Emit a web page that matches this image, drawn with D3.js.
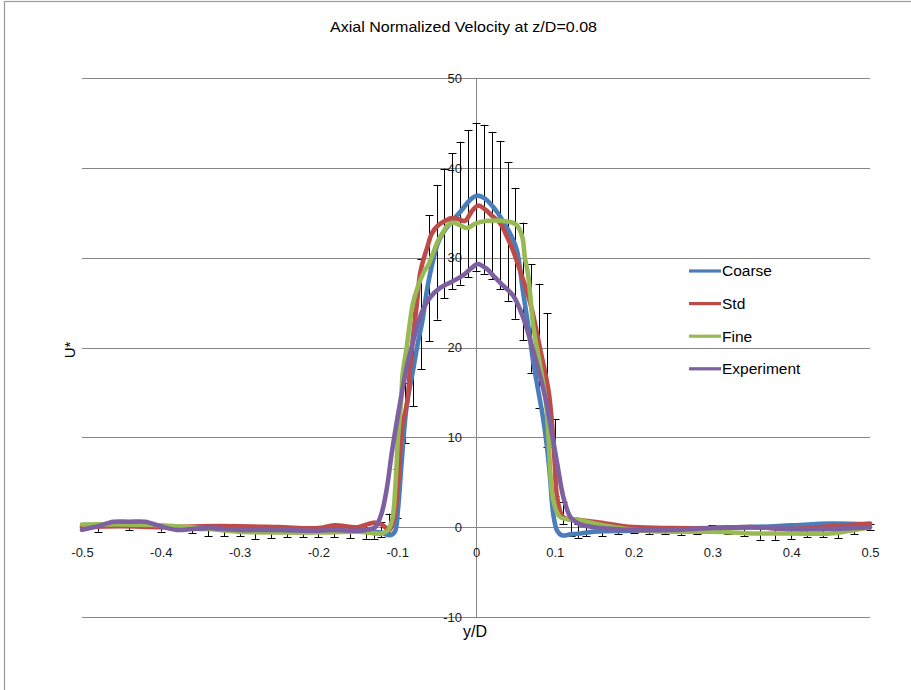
<!DOCTYPE html>
<html>
<head>
<meta charset="utf-8">
<script src="https://cdn.jsdelivr.net/npm/d3@7"></script>
<style>
  html, body { margin: 0; padding: 0; background: #fff; }
  svg { display: block; font-family: "Liberation Sans", Arial, sans-serif; }
</style>
</head>
<body>
<svg id="chart" width="911" height="690"></svg>
<script>
// Axial normalized velocity profiles U* across y/D at z/D = 0.08

const seriesNames = ["Coarse", "Std", "Fine", "Experiment"];
const seriesColors = ["#4A7EBB", "#BE4B48", "#98B954", "#7D60A0"];

const xTicks = [-0.5, -0.4, -0.3, -0.2, -0.1, 0, 0.1, 0.2, 0.3, 0.4, 0.5];
const xTickLabels = ["-0.5", "-0.4", "-0.3", "-0.2", "-0.1", "0", "0.1", "0.2", "0.3", "0.4", "0.5"];
const yTicks = [-10, 0, 10, 20, 30, 40, 50];
const yTickLabels = ["-10", "0", "10", "20", "30", "40", "50"];

// Coarse mesh
const coarseY = [-0.5, -0.45, -0.4, -0.35, -0.3, -0.25, -0.2, -0.15, -0.12, -0.11, -0.103, -0.099, -0.095, -0.09, -0.087,
  -0.08, -0.074, -0.068, -0.062, -0.055, -0.048, -0.04, -0.031, -0.018, -0.008, 0.001, 0.011, 0.024, 0.034, 0.046,
  0.052, 0.06, 0.067, 0.073, 0.085, 0.09, 0.094, 0.098, 0.103, 0.109, 0.12, 0.132, 0.15, 0.2, 0.25, 0.3, 0.35, 0.4, 0.45, 0.5];
const coarseU = [0.1, 0.3, 0.1, -0.2, -0.1, -0.3, -0.4, -0.5, -0.6, -0.9, -0.5, 2, 6.5, 11.9, 14.1,
  17.4, 20.4, 23, 26.5, 29.5, 31.7, 33, 34, 35.3, 36.4, 36.9, 36.6, 35.4, 34.1, 32.2,
  30.8, 26, 22, 18.2, 12.2, 9, 5.5, 1.5, -0.4, -0.9, -0.8, -0.7, -0.5, -0.4, -0.3, -0.1, 0, 0.2, 0.4, 0.3];

// Standard mesh
const stdY = [-0.5, -0.45, -0.4, -0.35, -0.3, -0.25, -0.2, -0.18, -0.15, -0.13, -0.12, -0.11, -0.106, -0.102, -0.098,
  -0.094, -0.087, -0.084, -0.08, -0.075, -0.071, -0.067, -0.062, -0.056, -0.048, -0.039, -0.031, -0.023, -0.014, -0.005,
  0.003, 0.011, 0.02, 0.031, 0.039, 0.047, 0.053, 0.069, 0.081, 0.092, 0.097, 0.1, 0.103, 0.111, 0.132, 0.15,
  0.2, 0.25, 0.3, 0.35, 0.4, 0.45, 0.5];
const stdU = [0, 0.1, 0, 0.1, 0.1, 0, -0.1, 0.2, 0, 0.5, 0.3, -0.3, 0.3, 2, 6,
  11, 14.1, 17.4, 21.1, 24.9, 28.2, 29.7, 31.1, 32.7, 33.6, 34.1, 34.4, 34.3, 34.1, 35.2,
  35.8, 35.4, 34.7, 33.8, 32.4, 30.8, 29.3, 24.9, 20, 15.2, 11, 7, 3.3, 1.1, 0.8, 0.6,
  0, -0.1, -0.1, 0, -0.2, 0.1, 0.4];

// Fine mesh
const fineY = [-0.5, -0.45, -0.4, -0.35, -0.3, -0.25, -0.2, -0.15, -0.12, -0.112, -0.106, -0.102, -0.099, -0.095, -0.093,
  -0.088, -0.084, -0.08, -0.074, -0.065, -0.061, -0.055, -0.048, -0.042, -0.036, -0.029, -0.02, -0.011, -0.001, 0.015,
  0.033, 0.046, 0.052, 0.059, 0.062, 0.066, 0.073, 0.081, 0.089, 0.092, 0.095, 0.099, 0.107, 0.132, 0.15,
  0.2, 0.25, 0.3, 0.35, 0.4, 0.45, 0.48, 0.5];
const fineU = [0.3, 0.3, 0.2, -0.1, -0.5, -0.6, -0.6, -0.5, -0.7, -0.4, 1, 5, 10, 14.1, 17.1,
  20, 22.7, 24.9, 26.7, 28.6, 29.1, 30.4, 31.9, 32.8, 33.6, 33.9, 33.6, 33.3, 33.8, 34.1,
  34.1, 33.9, 33.6, 32.2, 30, 28.2, 22.2, 18.2, 13.8, 10, 5.2, 2.7, 1.1, 0.8, 0.4,
  -0.3, -0.5, -0.5, -0.7, -0.7, -0.7, -0.3, 0];

// Experiment
const expY = [-0.5, -0.48, -0.46, -0.44, -0.42, -0.4, -0.38, -0.36, -0.34, -0.32, -0.3, -0.25, -0.2, -0.18, -0.16,
  -0.14, -0.128, -0.12, -0.113, -0.107, -0.1, -0.093, -0.087, -0.08, -0.074, -0.067, -0.058, -0.046, -0.029, -0.017,
  -0.005, 0.002, 0.013, 0.023, 0.033, 0.047, 0.06, 0.075, 0.088, 0.094, 0.103, 0.111, 0.12, 0.13, 0.15,
  0.2, 0.25, 0.3, 0.35, 0.4, 0.45, 0.48, 0.5];
const expU = [-0.3, 0.1, 0.6, 0.6, 0.6, 0.1, -0.3, -0.2, -0.1, -0.2, -0.3, -0.3, -0.4, -0.3, -0.4,
  -0.3, 0, 1.5, 4.4, 8.2, 12, 15.5, 18.2, 20.6, 22.6, 24.3, 25.6, 26.6, 27.4, 28,
  28.9, 29.3, 28.8, 27.9, 27, 25.8, 23.3, 18.9, 14.4, 11.6, 7.1, 3.3, 1.1, 0.4, 0,
  -0.3, -0.3, -0.1, 0, -0.2, -0.2, -0.1, 0];

// Measurement uncertainty range at each probe position
const errY = [-0.48, -0.44, -0.4, -0.36, -0.34, -0.32, -0.3, -0.28, -0.26, -0.24, -0.22, -0.2, -0.18, -0.16, -0.14, -0.13,
  -0.12, -0.11, -0.1, -0.09, -0.08, -0.07, -0.06, -0.05, -0.04, -0.03, -0.02, -0.01, 0,
  0.01, 0.02, 0.03, 0.04, 0.05, 0.06, 0.07, 0.08, 0.09, 0.1, 0.11, 0.12, 0.13,
  0.14, 0.16, 0.18, 0.2, 0.22, 0.24, 0.26, 0.28, 0.3, 0.32, 0.34, 0.36, 0.38, 0.4, 0.42, 0.44, 0.46, 0.48, 0.5];
const errLo = [-0.5, -0.3, -0.5, -0.7, -1.0, -1.0, -1.0, -1.3, -1.2, -1.1, -1.1, -1.1, -1.1, -1.2, -1.3, -1.3,
  -1.1, -0.9, 1.0, 9.4, 13.5, 17.6, 20.7, 23.1, 25.5, 26.5, 27.0, 27.8, 28.5,
  28.2, 27.6, 26.5, 25.2, 23.2, 20.8, 17.2, 13.3, 8.9, 3.5, 0.3, -1.0, -1.2,
  -1.0, -1.0, -0.8, -0.7, -0.8, -0.8, -0.9, -0.8, -0.7, -0.8, -1.0, -1.4, -1.4, -1.3, -1.1, -1.1, -1.2, -0.8, -0.3];
const errHi = [0.3, 0.6, 0.3, 0.2, 0.2, 0.1, 0, 0, 0, 0, 0, 0, 0.1, 0, 0.2, 0.5,
  0.6, 1.5, 6.5, 16, 24, 29.9, 34.7, 38.1, 39.9, 41.6, 42.9, 44.2, 45.0,
  44.8, 44.0, 43.0, 40.6, 37.7, 33.9, 29.3, 27.1, 23.8, 12.0, 2.8, 0.8, 0.4,
  0.3, 0.2, 0.2, 0.1, 0.1, 0, 0, 0.1, 0.2, 0.2, 0.2, 0.2, 0.1, 0.1, 0.2, 0.1, 0.1, 0.3, 0.4];

const series = [
  { name: seriesNames[0], color: seriesColors[0], ys: coarseY, us: coarseU },
  { name: seriesNames[1], color: seriesColors[1], ys: stdY, us: stdU },
  { name: seriesNames[2], color: seriesColors[2], ys: fineY, us: fineU },
  { name: seriesNames[3], color: seriesColors[3], ys: expY, us: expU }
];

const svg = d3.select("#chart");
const gridColor = "#868686";

const x = d3.scaleLinear().domain([-0.5, 0.5]).range([82, 870]);
const y = d3.scaleLinear().domain([-10, 50]).range([617, 78]);

// outer chart frame
svg.append("rect")
  .attr("x", 4.5).attr("y", 1.5)
  .attr("width", 1000).attr("height", 1000)
  .attr("fill", "none").attr("stroke", "#999").attr("stroke-width", 1.2);

// title
svg.append("text")
  .attr("x", 463.5).attr("y", 32)
  .attr("text-anchor", "middle")
  .attr("font-size", 15)
  .attr("textLength", 267).attr("lengthAdjust", "spacingAndGlyphs")
  .attr("fill", "#000")
  .text("Axial Normalized Velocity at z/D=0.08");

// horizontal gridlines
const grid = svg.append("g")
  .attr("transform", `translate(${x.range()[1]},0)`)
  .call(d3.axisLeft(y).tickValues(yTicks).tickSize(x.range()[1] - x.range()[0]).tickFormat(""));
grid.select(".domain").remove();
grid.selectAll("line").attr("stroke", gridColor).attr("shape-rendering", "crispEdges");

// vertical axis through y/D = 0
svg.append("line")
  .attr("x1", Math.round(x(0)) + 0.5).attr("x2", Math.round(x(0)) + 0.5)
  .attr("y1", y(50)).attr("y2", y(-10))
  .attr("stroke", gridColor);

// y tick labels
const yAxis = svg.append("g")
  .attr("transform", `translate(${x(0)},0)`)
  .call(d3.axisLeft(y).tickValues(yTicks).tickSize(0).tickPadding(14)
    .tickFormat((d, i) => yTickLabels[i]));
yAxis.select(".domain").remove();
yAxis.selectAll("text").attr("font-size", 13).attr("fill", "#1a1a1a")
  .attr("font-family", "Liberation Sans, Arial, sans-serif");

// x tick labels
const xAxis = svg.append("g")
  .attr("transform", `translate(0,${y(0)})`)
  .call(d3.axisBottom(x).tickValues(xTicks).tickSize(0).tickPadding(21)
    .tickFormat((d, i) => xTickLabels[i]));
xAxis.select(".domain").remove();
xAxis.selectAll("text").attr("font-size", 13).attr("fill", "#1a1a1a")
  .attr("font-family", "Liberation Sans, Arial, sans-serif");

// axis titles
svg.append("text")
  .attr("x", 475).attr("y", 637)
  .attr("text-anchor", "middle").attr("font-size", 16).attr("fill", "#000")
  .text("y/D");
svg.append("text")
  .attr("transform", "translate(75,350) rotate(-90)")
  .attr("text-anchor", "middle").attr("font-size", 15).attr("fill", "#000")
  .text("U*");

// error bars
const errData = errY.map((v, i) => ({ p: v, lo: errLo[i], hi: errHi[i] }));
const eb = svg.append("g").attr("stroke", "#000").attr("stroke-width", 1).attr("fill", "none");
const capW = 4;
errData.forEach(d => {
  const cx = Math.round(x(d.p)) + 0.5;
  eb.append("line").attr("x1", cx).attr("x2", cx).attr("y1", y(d.lo)).attr("y2", y(d.hi));
  eb.append("line").attr("x1", cx - capW).attr("x2", cx + capW)
    .attr("y1", Math.round(y(d.lo)) + 0.5).attr("y2", Math.round(y(d.lo)) + 0.5);
  eb.append("line").attr("x1", cx - capW).attr("x2", cx + capW)
    .attr("y1", Math.round(y(d.hi)) + 0.5).attr("y2", Math.round(y(d.hi)) + 0.5);
});

// smoothed profile lines
const line = d3.line()
  .x(d => x(d[0]))
  .y(d => y(d[1]))
  .curve(d3.curveCatmullRom.alpha(0.5));

svg.append("g").selectAll("path")
  .data(series)
  .join("path")
  .attr("d", s => line(s.ys.map((v, i) => [v, s.us[i]])))
  .attr("fill", "none")
  .attr("stroke", s => s.color)
  .attr("stroke-width", 4.6)
  .attr("stroke-linejoin", "round")
  .attr("stroke-linecap", "round");

// legend
const legend = svg.append("g").attr("transform", "translate(689,271)");
const rows = legend.selectAll("g")
  .data(series)
  .join("g")
  .attr("transform", (d, i) => `translate(0,${i * 32.6})`);
rows.append("line")
  .attr("x1", 0).attr("x2", 32).attr("y1", 0).attr("y2", 0)
  .attr("stroke", d => d.color).attr("stroke-width", 3.2);
rows.append("text")
  .attr("x", 33).attr("y", 0).attr("dy", "0.35em")
  .attr("font-size", 15.5).attr("fill", "#000")
  .text(d => d.name);
</script>
</body>
</html>
